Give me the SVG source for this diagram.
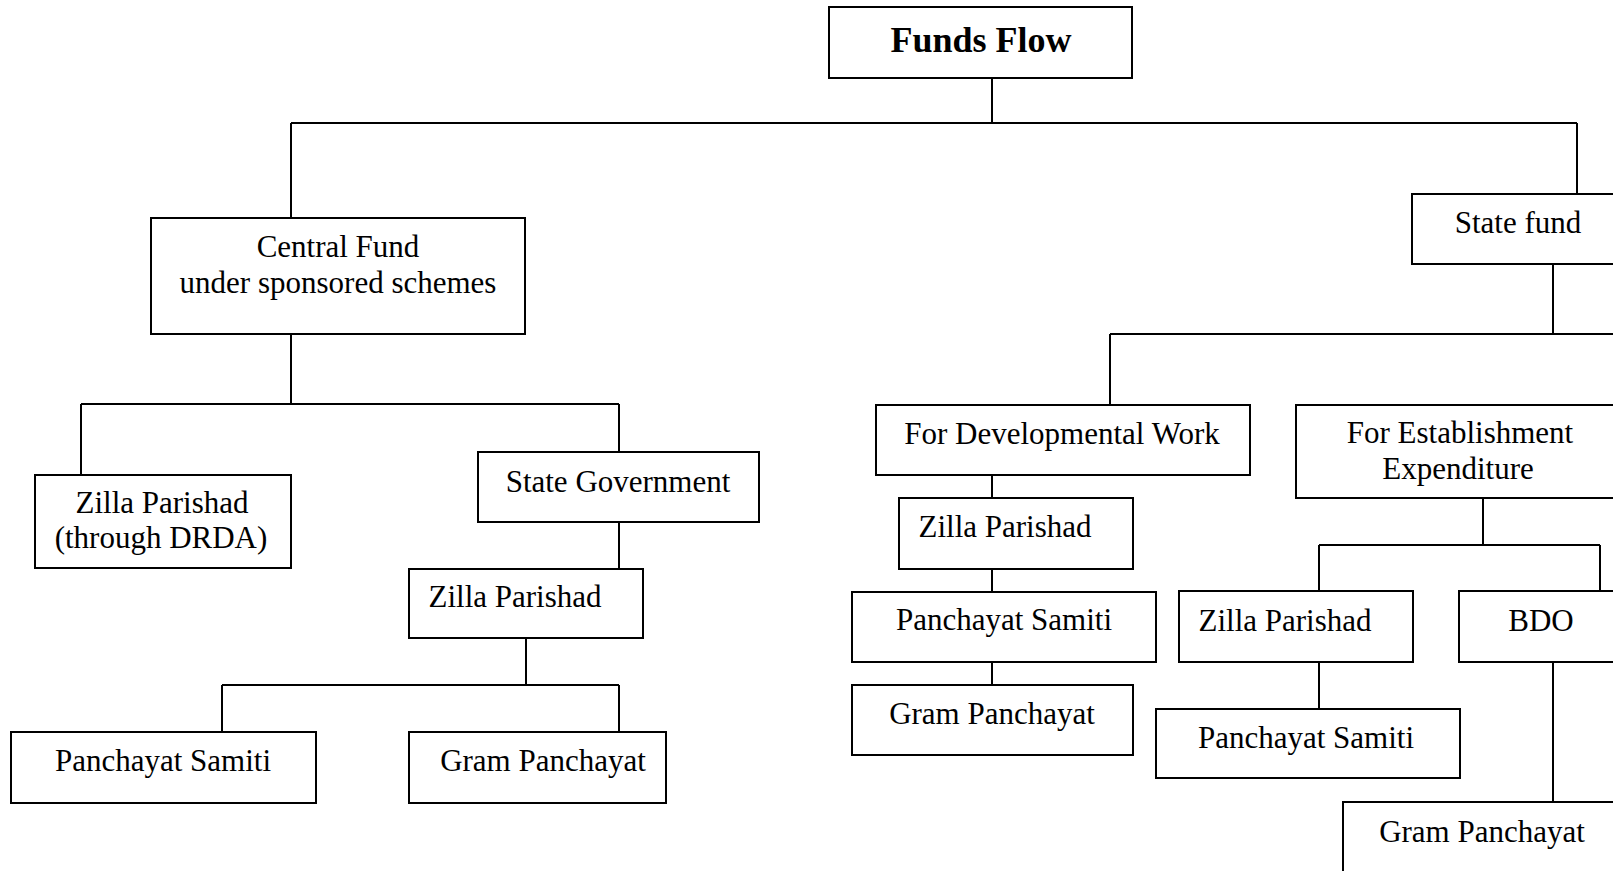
<svg xmlns="http://www.w3.org/2000/svg" width="1613" height="871" viewBox="0 0 1613 871">
<style>
.box{fill:#fff;stroke:#000;stroke-width:2}
.ln{fill:none;stroke:#000;stroke-width:2}
text{font-family:"Liberation Serif","Times New Roman",serif;font-size:31px;fill:#000;text-anchor:middle}
.title{font-weight:bold;font-size:36px}
</style>
<rect width="1613" height="871" fill="#fff"/>
<g id="connectors">
<path class="ln" d="M992 78V123M291 123H1577M291 123V218M1577 123V194"/>
<path class="ln" d="M291 334V404M81 404H619M81 404V475M619 404V452M619 522V569M526 638V685M222 685H619M222 685V732M619 685V732"/>
<path class="ln" d="M1553 264V334M1110 334H1640M1110 334V405"/>
<path class="ln" d="M992 475V498M992 569V592M992 662V685"/>
<path class="ln" d="M1483 498V545M1319 545H1600M1319 545V591M1600 545V591M1319 662V709M1553 662V802"/>
</g>
<g id="funds-flow"><rect class="box" x="829" y="7" width="303" height="71"/><text class="title" x="981" y="52">Funds Flow</text></g>
<g id="central-fund"><rect class="box" x="151" y="218" width="374" height="116"/><text x="338" y="257">Central Fund</text><text x="338" y="293">under sponsored schemes</text></g>
<g id="zp-drda"><rect class="box" x="35" y="475" width="256" height="93"/><text x="162" y="513">Zilla Parishad</text><text x="161" y="548">(through DRDA)</text></g>
<g id="state-government"><rect class="box" x="478" y="452" width="281" height="70"/><text x="618" y="492">State Government</text></g>
<g id="zp-left"><rect class="box" x="409" y="569" width="234" height="69"/><text x="515" y="607">Zilla Parishad</text></g>
<g id="ps-left"><rect class="box" x="11" y="732" width="305" height="71"/><text x="163" y="771">Panchayat Samiti</text></g>
<g id="gp-left"><rect class="box" x="409" y="732" width="257" height="71"/><text x="543" y="771">Gram Panchayat</text></g>
<g id="state-fund"><rect class="box" x="1412" y="194" width="240" height="70"/><text x="1518" y="233">State fund</text></g>
<g id="developmental"><rect class="box" x="876" y="405" width="374" height="70"/><text x="1062" y="444">For Developmental Work</text></g>
<g id="zp-mid"><rect class="box" x="899" y="498" width="234" height="71"/><text x="1005" y="537">Zilla Parishad</text></g>
<g id="ps-mid"><rect class="box" x="852" y="592" width="304" height="70"/><text x="1004" y="630">Panchayat Samiti</text></g>
<g id="gp-mid"><rect class="box" x="852" y="685" width="281" height="70"/><text x="992" y="724">Gram Panchayat</text></g>
<g id="establishment"><rect class="box" x="1296" y="405" width="360" height="93"/><text x="1460" y="443">For Establishment</text><text x="1458" y="479">Expenditure</text></g>
<g id="zp-right"><rect class="box" x="1179" y="591" width="234" height="71"/><text x="1285" y="631">Zilla Parishad</text></g>
<g id="bdo"><rect class="box" x="1459" y="591" width="200" height="71"/><text x="1541" y="631">BDO</text></g>
<g id="ps-right"><rect class="box" x="1156" y="709" width="304" height="69"/><text x="1306" y="748">Panchayat Samiti</text></g>
<g id="gp-right"><rect class="box" x="1343" y="802" width="300" height="100"/><text x="1482" y="842">Gram Panchayat</text></g>
</svg>
